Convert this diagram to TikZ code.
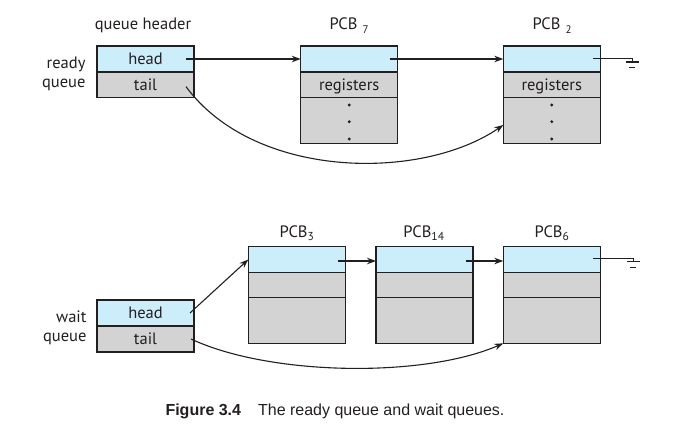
\documentclass[tikz,border=0pt]{standalone}
\usepackage{fontspec}
\setmainfont{PT Sans}
\newfontfamily\capfont{Liberation Sans}
\usetikzlibrary{arrows.meta,calc}
\definecolor{cellblue}{RGB}{204,238,250}
\definecolor{cellgray}{RGB}{211,211,211}
\definecolor{ink}{RGB}{35,31,32}
\begin{document}
\begin{tikzpicture}[x=1pt,y=-1pt, line width=1.1pt, draw=ink,
  cellbase/.style={draw=ink, anchor=north west, minimum width=97pt, inner sep=0pt, outer sep=0pt, text height=11.8pt, text depth=0pt, font=\fontsize{16.5}{19}\selectfont, text=ink},
  bcell/.style={cellbase, fill=cellblue},
  gcell/.style={cellbase, fill=cellgray},
  lbl/.style={font=\fontsize{16.5}{19}\selectfont, text=ink, inner sep=0pt},
  arr/.style={draw=ink, -{Stealth[length=9pt,width=6.5pt]}},
  wire/.style={draw=ink}]
\useasboundingbox (0,0) rectangle (700,438);
% ready queue header
\node[bcell, minimum height=26pt] (rh) at (97,46) {head};
\node[gcell, minimum height=25.3pt] (rt) at (97,72) {tail};
\node[lbl, align=right, anchor=east] (rq) at (86,73.5) {ready\\[0pt]queue};
\node[lbl] (qh) at (143,25) {queue header};
% PCB7
\node[bcell, minimum height=26pt] (p7a) at (300.7,46) {};
\node[gcell, minimum height=25.3pt] (p7b) at (300.7,72) {registers};
\node[gcell, minimum height=46pt] (p7c) at (300.7,97.3) {};
\node[lbl] (t7) at (349,26) {PCB\hspace{5pt}\raisebox{-4pt}{\fontsize{11}{12}\selectfont 7}};
% PCB2
\node[bcell, minimum height=26pt] (p2a) at (503.3,46) {};
\node[gcell, minimum height=25.3pt] (p2b) at (503.3,72) {registers};
\node[gcell, minimum height=46pt] (p2c) at (503.3,97.3) {};
\node[lbl] (t2) at (552,26) {PCB\hspace{5pt}\raisebox{-4pt}{\fontsize{11}{12}\selectfont 2}};
\foreach \n in {p7c,p2c}{
  \foreach \d in {7.7,24.4,41.7}{
    \fill[ink] ($(\n.north)+(0,\d)$) circle (1.6pt);
  }
}
% wait queue header
\node[bcell, minimum height=26pt] (wh) at (97,300) {head};
\node[gcell, minimum height=26pt] (wt) at (97,326) {tail};
\node[lbl, align=right, anchor=east] (wq) at (87,328) {wait\\[0pt]queue};
% PCB3, 14, 6
\node[bcell, minimum height=25.6pt] (p3a) at (248.3,246.7) {};
\node[gcell, minimum height=25pt] (p3b) at (248.3,272.3) {};
\node[gcell, minimum height=46pt] (p3c) at (248.3,297.3) {};
\node[lbl] (t3) at (297,233) {PCB\textsubscript{3}};
\node[bcell, minimum height=25.6pt] (p14a) at (376,246.7) {};
\node[gcell, minimum height=25pt] (p14b) at (376,272.3) {};
\node[gcell, minimum height=46pt] (p14c) at (376,297.3) {};
\node[lbl] (t14) at (424,233) {PCB\textsubscript{14}};
\node[bcell, minimum height=25.6pt] (p6a) at (503.3,246.7) {};
\node[gcell, minimum height=25pt] (p6b) at (503.3,272.3) {};
\node[gcell, minimum height=46pt] (p6c) at (503.3,297.3) {};
\node[lbl] (t6) at (552,233) {PCB\textsubscript{6}};
% ready connectors
\draw[arr] ($(rh.east)+(-8,0)$) -- (p7a.west);
\draw[arr] ($(p7a.east)+(-8,0)$) -- (p2a.west);
\coordinate (g1) at ($(p2a.east)+(32,-0.5)$);
\draw[wire] ($(p2a.east)+(-7,-0.5)$) -- (g1);
\draw[wire] (g1) -- ++(0,3.5) ++(-6.5,0) -- ++(13,0) ++(-9.5,5.5) -- ++(6,0);
\draw[arr] ($(rt.east)+(-8,2)$) .. controls (255,180) and (422,181) .. ($(p2c.west)+(0,4.7)$);
% wait connectors
\draw[arr] ($(wh.east)+(-4,0)$) -- (p3a.west);
\draw[arr] ($(p3a.east)+(-7,1.5)$) -- ($(p14a.west)+(0,1.5)$);
\draw[arr] ($(p14a.east)+(-7,1.5)$) -- ($(p6a.west)+(0,1.5)$);
\coordinate (g2) at ($(p6a.east)+(33,-1.2)$);
\draw[wire] ($(p6a.east)+(-7,-1.2)$) -- (g2);
\draw[wire] (g2) -- ++(0,3.5) ++(-6.5,0) -- ++(13,0) ++(-9.5,5.5) -- ++(6,0);
\draw[arr] ($(wt.east)+(-3,0)$) .. controls (270,376) and (424,378) .. (p6c.south west);
% caption
\node[font=\capfont\fontsize{16}{18}\selectfont, text=ink, inner sep=0pt] (cap) at (335,411) {\textbf{Figure 3.4}\hspace{17pt}The ready queue and wait queues.};
\end{tikzpicture}
\end{document}
